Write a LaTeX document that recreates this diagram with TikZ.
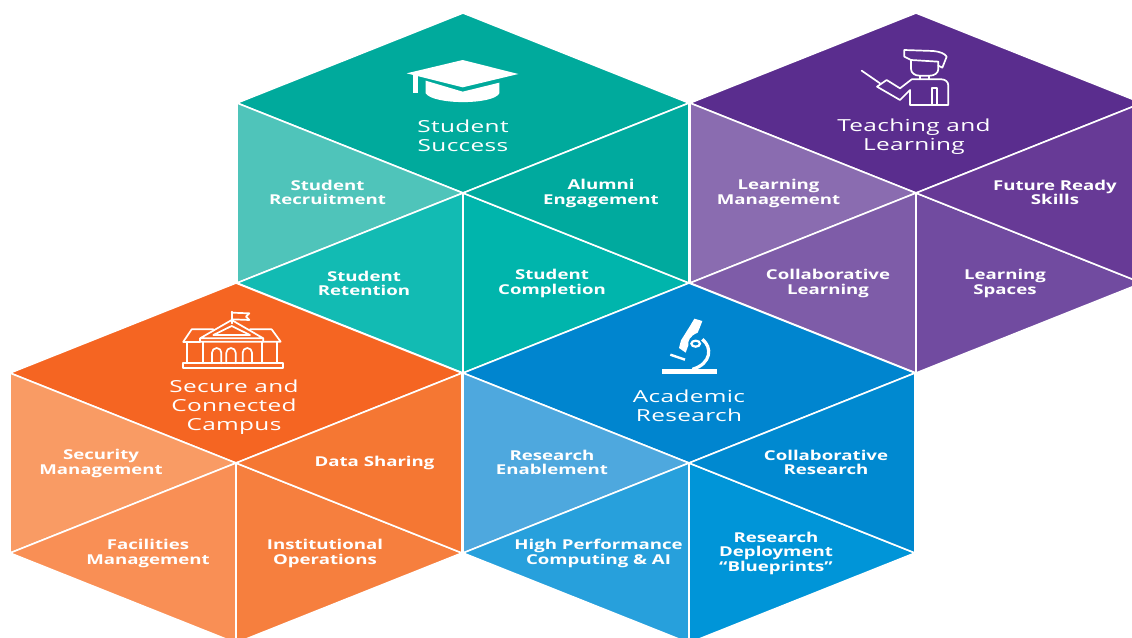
\documentclass[tikz,border=0pt]{standalone}
\usepackage{fontspec}
\setmainfont{Open Sans}
\newfontfamily\lblfont[FakeStretch=1.37]{Open Sans Bold}
\newfontfamily\ttlfont[FakeStretch=1.47,LetterSpace=2]{Open Sans}
\definecolor{tT}{HTML}{00AA9C}\definecolor{tA}{HTML}{4FC4BA}\definecolor{tB}{HTML}{12BBB3}\definecolor{tC}{HTML}{00B5AC}\definecolor{tD}{HTML}{00AA9E}
\definecolor{pT}{HTML}{5A2D8E}\definecolor{pA}{HTML}{8A6CB0}\definecolor{pB}{HTML}{7E5CA8}\definecolor{pC}{HTML}{714BA0}\definecolor{pD}{HTML}{673A96}
\definecolor{oT}{HTML}{F56522}\definecolor{oA}{HTML}{F99B64}\definecolor{oB}{HTML}{F98F55}\definecolor{oC}{HTML}{F67F3E}\definecolor{oD}{HTML}{F57733}
\definecolor{bT}{HTML}{0085CF}\definecolor{bA}{HTML}{4EA8DE}\definecolor{bB}{HTML}{27A0DC}\definecolor{bC}{HTML}{0095D8}\definecolor{bD}{HTML}{0089D0}
\tikzset{
 facet/.style={draw=white,line width=1.6pt,line join=round},
 lbl/.style={text=white,align=center,font=\lblfont\fontsize{13.6}{14.5}\selectfont,inner sep=0pt},
 ttl/.style={text=white,align=center,font=\ttlfont\fontsize{16.6}{19.3}\selectfont,inner sep=0pt},
 icon/.style={draw=white,line width=1.7pt,line join=round,line cap=round}
}
\newcommand{\hexcell}[7]{%
 \begin{scope}[shift={(#1,#2)}]
  \draw[facet,fill=#3] (0,-180)--(226,-90)--(0,0)--(-226,-90)--cycle;
  \draw[facet,fill=#4] (-226,-90)--(0,0)--(-226,90)--cycle;
  \draw[facet,fill=#5] (-226,90)--(0,0)--(0,180)--cycle;
  \draw[facet,fill=#6] (0,0)--(226,90)--(0,180)--cycle;
  \draw[facet,fill=#7] (0,0)--(226,-90)--(226,90)--cycle;
 \end{scope}}
\begin{document}
\begin{tikzpicture}[x=1pt,y=-1pt]
\useasboundingbox (0,0) rectangle (1132,637);
\clip (0,0) rectangle (1132,637);
\fill[white] (0,0) rectangle (1132,637);
\hexcell{463}{193}{tT}{tA}{tB}{tC}{tD}
\hexcell{916}{193}{pT}{pA}{pB}{pC}{pD}
\hexcell{236}{463}{oT}{oA}{oB}{oC}{oD}
\hexcell{689}{463}{bT}{bA}{bB}{bC}{bD}
% titles
\node[ttl] (t1) at (463,136) {Student\\Success};
\node[ttl] (t2) at (914,137) {Teaching and\\Learning};
\node[ttl] (t3) at (234,407) {Secure and\\Connected\\Campus};
\node[ttl] (t4) at (689,406) {Academic\\Research};
% labels
\node[lbl] (a1) at (327.5,192.5) {Student\\Recruitment};
\node[lbl] (a2) at (364,283.5) {Student\\Retention};
\node[lbl] (a3) at (552,283.5) {Student\\Completion};
\node[lbl] (a4) at (601,193.5) {Alumni\\Engagement};
\node[lbl] (b1) at (778.5,193.5) {Learning\\Management};
\node[lbl] (b2) at (828,283.5) {Collaborative\\Learning};
\node[lbl] (b3) at (1005,283.5) {Learning\\Spaces};
\node[lbl] (b4) at (1055,192.5) {Future Ready\\Skills};
\node[lbl] (c1) at (101,463.5) {Security\\Management};
\node[lbl] (c2) at (148,553.5) {Facilities\\Management};
\node[lbl] (c3) at (325,553.5) {Institutional\\Operations};
\node[lbl] (c4) at (374.5,462.5) {Data Sharing};
\node[lbl] (d1) at (552,462.5) {Research\\Enablement};
\node[lbl] (d2) at (598.5,553.5) {High Performance\\Computing \& AI};
\node[lbl] (d3) at (776,553) {Research\\Deployment\\“Blueprints”};
\node[lbl] (d4) at (826,462.5) {Collaborative\\Research};
% graduation cap
\begin{scope}[shift={(380,40)},scale=1/3]
 \fill[white] (80,100)--(248,60)--(415,102)--(248,142)--cycle;
 \fill[white] (98,104)--(113,104)--(113,160)--(98,160)--cycle;
 \fill[white] (137,122)--(248,155)--(358,128)--(358,160) .. controls (340,195) and (160,195) .. (137,160)--cycle;
\end{scope}
% teacher
\begin{scope}[shift={(840,30)},scale=1/3]
 \draw[icon] (65,122)--(120,160);
\end{scope}
\begin{scope}[shift={(885,45)},scale=1/3]
 \draw[icon] (78,45)--(58,35)--(58,15)--(145,18) .. controls (165,20) and (180,26) .. (185,35)--(172,68)--(160,62);
 \draw[icon] (78,45)--(160,50)--(160,72) .. controls (160,84) and (148,92) .. (135,92)--(103,92) .. controls (90,92) and (78,84) .. (78,72)--cycle;
 \draw[icon] (105,92)--(105,103) (133,92)--(133,103);
 \draw[icon] (105,103)--(80,103)--(45,130)--(5,105)--(-24,125)--(45,165)--(75,135)--(75,180)--(190,180)--(190,122) .. controls (190,110) and (180,103) .. (170,103)--(105,103);
 \draw[icon] (140,180)--(140,130)--(157,130)--(157,180);
\end{scope}
% building
\begin{scope}[shift={(160,300)},scale=1/3]
 \draw[icon] (215,35)--(215,70);
 \draw[icon] (215,38)--(268,40)--(258,50)--(268,60)--(218,58);
 \draw[icon] (120,115)--(215,60)--(310,115)--(120,115)--(120,125)--(310,125)--(310,115);
 \draw[icon] (160,105)--(215,78)--(270,105)--cycle;
 \draw[icon] (70,125)--(95,88)--(160,88);
 \draw[icon] (270,88)--(335,88)--(362,125)--(310,125);
 \draw[icon] (70,125)--(120,125);
 \draw[icon] (80,125)--(80,190) (352,125)--(352,190) (130,125)--(130,190) (305,125)--(305,190);
 \draw[icon] (68,190)--(368,190)--(368,205)--(68,205)--cycle;
 \foreach \ax in {170,213,262}{
  \draw[icon] (\ax-14,190)--(\ax-14,158) arc[start angle=180,end angle=0,x radius=14,y radius=-14]--(\ax+14,190);}
\end{scope}
% microscope
\begin{scope}[shift={(655,312)},scale=1/3]
 \fill[white] (72,108)--(78,85)--(105,42)--(118,20)--(142,27)--(134,48)--(128,62) .. controls (105,72) and (98,85) .. (100,100)--(92,122)--cycle;
 \draw[white,line width=2.2pt] (122,95) ellipse[x radius=13,y radius=9];
 \draw[white,line width=3.2pt] (142,82) .. controls (172,105) and (170,155) .. (112,172);
 \draw[white,line width=2.4pt] (46,128)--(90,143);
 \fill[white] (20,171) rectangle (185,186);
\end{scope}
\end{tikzpicture}
\end{document}
